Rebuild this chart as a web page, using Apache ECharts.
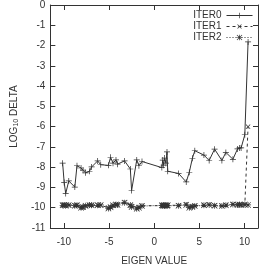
<!DOCTYPE html>
<html>
<head>
<meta charset="utf-8">
<script src="https://cdn.jsdelivr.net/npm/echarts@6/dist/echarts.min.js"></script>
<style>
  html, body { margin: 0; padding: 0; background: #fff; }
  #chart { width: 259px; height: 271px; }
</style>
</head>
<body>
<div id="chart"></div>
<script>
// eigen values (x), shared by all iterations
var eigen = [-10.14, -9.97, -9.8, -9.46, -8.79, -8.55, -8.1, -7.88, -7.6, -7.17, -6.93, -6.26,
  -5.92, -5.07, -4.83, -4.56, -4.23, -4.06, -3.28, -2.64, -2.5, -1.93, -1.69, -1.35,
  0.85, 0.95, 1.05, 1.15, 1.3, 1.42, 1.5, 2.7, 3.55, 3.89, 4.23, 4.5, 5.51, 6.09,
  6.69, 7.5, 7.94, 8.72, 9.23, 9.45, 9.63, 10.04, 10.4]
var iter0 = [-7.8, -8.75, -9.3, -8.68, -8.98, -7.93, -8.04, -8.15, -8.28, -8.2, -7.99, -7.69,
  -7.88, -7.91, -7.51, -7.8, -7.64, -7.85, -7.69, -8.09, -9.15, -7.64, -7.93, -7.72,
  -8.02, -7.65, -7.9, -7.55, -7.8, -7.25, -8.2, -8.31, -8.73, -8.25, -7.56, -7.19, -7.4, -7.67,
  -7.11, -7.67, -7.27, -7.61, -7.1, -7.05, -7.05, -6.4, -1.82]
var iter1 = [-9.86, -9.88, -9.86, -9.88, -9.88, -9.86, -9.95, -10.0, -9.92, -9.88, -9.86, -9.86,
  -9.88, -10.0, -9.96, -9.9, -9.86, -9.84, -9.72, -9.88, -9.92, -10.02, -9.96, -9.9,
  -9.9, -9.88, -9.9, -9.88, -9.9, -9.88, -9.9, -9.88, -9.82, -9.95, -9.92, -9.9, -9.86, -9.84,
  -9.88, -9.9, -9.86, -9.82, -9.84, -9.86, -9.84, -9.86, -6.0]
var iter2 = [-9.88, -9.86, -9.9, -9.86, -9.9, -9.88, -10.0, -9.96, -9.9, -9.86, -9.88, -9.88,
  -9.86, -10.04, -9.98, -9.88, -9.84, -9.86, -9.76, -9.86, -9.96, -10.05, -10.0, -9.92,
  -9.88, -9.9, -9.88, -9.9, -9.88, -9.9, -9.88, -9.9, -9.86, -10.0, -9.96, -9.92, -9.88, -9.86,
  -9.9, -9.92, -9.88, -9.84, -9.86, -9.84, -9.86, -9.84, -9.86]
var xTicks = [-10, -5, 0, 5, 10]

var ink = '#333'
var font = 'Liberation Sans'
var plusPath = 'path://M4.4,0H5.6V4.4H10V5.6H5.6V10H4.4V5.6H0V4.4H4.4Z'
var starPath = 'path://M4.4,0H5.6V4.4H10V5.6H5.6V10H4.4V5.6H0V4.4H4.4Z' +
  'M0.8,0L5,4.2L9.2,0L10,0.8L5.8,5L10,9.2L9.2,10L5,5.8L0.8,10L0,9.2L4.2,5L0,0.8Z'

function pairs(ys) {
  return eigen.map(function (x, i) { return [x, ys[i]] })
}

function makeX(pos, main) {
  return {
    type: 'value', position: pos, min: -11.5, max: 11.5,
    axisLine: { show: true, onZero: false, lineStyle: { color: ink, width: 1 } },
    axisTick: { show: true, inside: true, length: 5, customValues: xTicks, lineStyle: { color: ink } },
    axisLabel: { show: main, customValues: xTicks, margin: 9, color: ink, fontSize: 10, fontFamily: font },
    splitLine: { show: false },
    name: main ? 'EIGEN VALUE' : '',
    nameLocation: 'middle', nameGap: 28,
    nameTextStyle: { color: ink, fontSize: 10, fontFamily: font }
  }
}
function makeY(pos, main) {
  return {
    type: 'value', position: pos, min: -11, max: 0, interval: 1,
    axisLine: { show: true, onZero: false, lineStyle: { color: ink, width: 1 } },
    axisTick: { show: true, inside: true, length: 5, lineStyle: { color: ink } },
    axisLabel: { show: main, margin: 5, color: ink, fontSize: 10, fontFamily: font },
    splitLine: { show: false },
    name: main ? '{a|LOG}{b|10}{a| DELTA}' : '',
    nameLocation: 'middle', nameGap: 18, nameRotate: 90,
    nameTextStyle: {
      rich: {
        a: { color: ink, fontSize: 10, fontFamily: font, lineHeight: 12 },
        b: { color: ink, fontSize: 7, fontFamily: font, lineHeight: 12, padding: [5, 0, 0, 0] }
      }
    }
  }
}

var chart = echarts.init(document.getElementById('chart'))
chart.setOption({
  animation: false,
  grid: { left: 32, right: 1, top: 5, bottom: 38 },
  legend: {
    data: ['ITER0', 'ITER1', 'ITER2'],
    orient: 'vertical', right: 6, top: 10, align: 'right',
    itemWidth: 26, itemHeight: 7, itemGap: 0, padding: 0,
    lineStyle: { width: 1 },
    textStyle: { color: ink, fontSize: 10, lineHeight: 11, fontFamily: font }
  },
  xAxis: [makeX('bottom', true), makeX('top', false)],
  yAxis: [makeY('left', true), makeY('right', false)],
  series: [
    {
      name: 'ITER0', type: 'line', data: pairs(iter0),
      symbol: plusPath, symbolSize: 6,
      itemStyle: { color: ink },
      lineStyle: { color: ink, width: 1, type: 'solid' }
    },
    {
      name: 'ITER1', type: 'line', data: pairs(iter1),
      symbol: plusPath, symbolSize: 6, symbolRotate: 45,
      itemStyle: { color: ink },
      lineStyle: { color: ink, width: 1, type: [3, 3] }
    },
    {
      name: 'ITER2', type: 'line', data: pairs(iter2),
      symbol: starPath, symbolSize: 6,
      itemStyle: { color: ink },
      lineStyle: { color: ink, width: 1, type: [1, 2] }
    }
  ]
})
</script>
</body>
</html>
